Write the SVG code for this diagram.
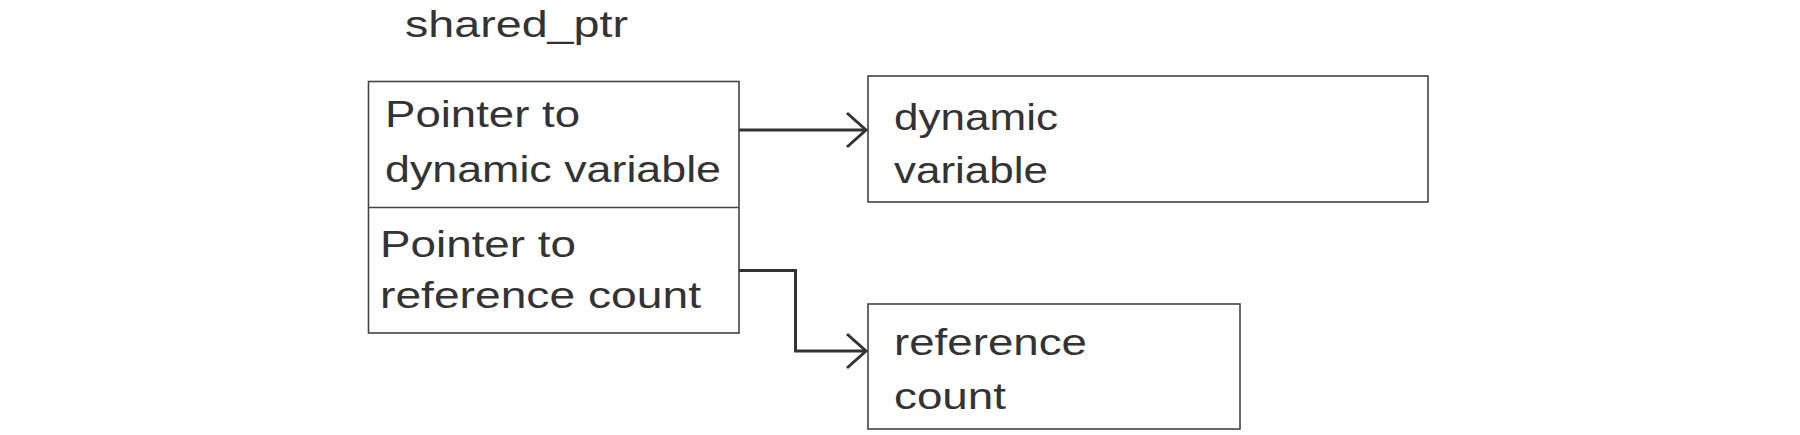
<svg xmlns="http://www.w3.org/2000/svg" width="1800" height="435" viewBox="0 0 1800 435">
  <style>
    .box { fill: #ffffff; stroke: #444444; stroke-width: 1.6; }
    .lbl { font-family: "Liberation Sans", Arial, sans-serif; font-size: 37px; fill: #333333; }
    .conn { fill: none; stroke: #333333; stroke-width: 3; }
  </style>
  <defs>
    <marker id="arrow" markerUnits="userSpaceOnUse" markerWidth="30" markerHeight="40" refX="22" refY="20" orient="auto" overflow="visible">
      <path d="M3,3 L22,20 L3,37" fill="none" stroke="#333333" stroke-width="3"/>
    </marker>
  </defs>
  <rect width="1800" height="435" fill="#ffffff"/>

  <g id="title">
    <text class="lbl" x="405" y="37" textLength="223" lengthAdjust="spacingAndGlyphs">shared_ptr</text>
  </g>

  <g id="shared_ptr">
    <rect class="box" x="368.5" y="81.5" width="370.5" height="251.5"/>
    <line x1="368.5" y1="207.5" x2="739" y2="207.5" stroke="#444444" stroke-width="1.6"/>
    <text class="lbl" x="385" y="127" textLength="195" lengthAdjust="spacingAndGlyphs">Pointer to</text>
    <text class="lbl" x="385" y="181.5" textLength="336" lengthAdjust="spacingAndGlyphs">dynamic variable</text>
    <text class="lbl" x="380" y="256.5" textLength="196" lengthAdjust="spacingAndGlyphs">Pointer to</text>
    <text class="lbl" x="380" y="308" textLength="321" lengthAdjust="spacingAndGlyphs">reference count</text>
  </g>

  <g id="dynamic_variable">
    <rect class="box" x="868" y="76" width="560" height="126"/>
    <text class="lbl" x="894" y="130" textLength="164" lengthAdjust="spacingAndGlyphs">dynamic</text>
    <text class="lbl" x="894" y="183" textLength="154" lengthAdjust="spacingAndGlyphs">variable</text>
  </g>

  <g id="reference_count">
    <rect class="box" x="868" y="304" width="372" height="125"/>
    <text class="lbl" x="894" y="355" textLength="193" lengthAdjust="spacingAndGlyphs">reference</text>
    <text class="lbl" x="894" y="409" textLength="112" lengthAdjust="spacingAndGlyphs">count</text>
  </g>

  <g id="connectors">
    <path class="conn" d="M739,130 L866,130" marker-end="url(#arrow)"/>
    <path class="conn" d="M739,270.5 L795.5,270.5 L795.5,351 L866,351" marker-end="url(#arrow)"/>
  </g>
</svg>
